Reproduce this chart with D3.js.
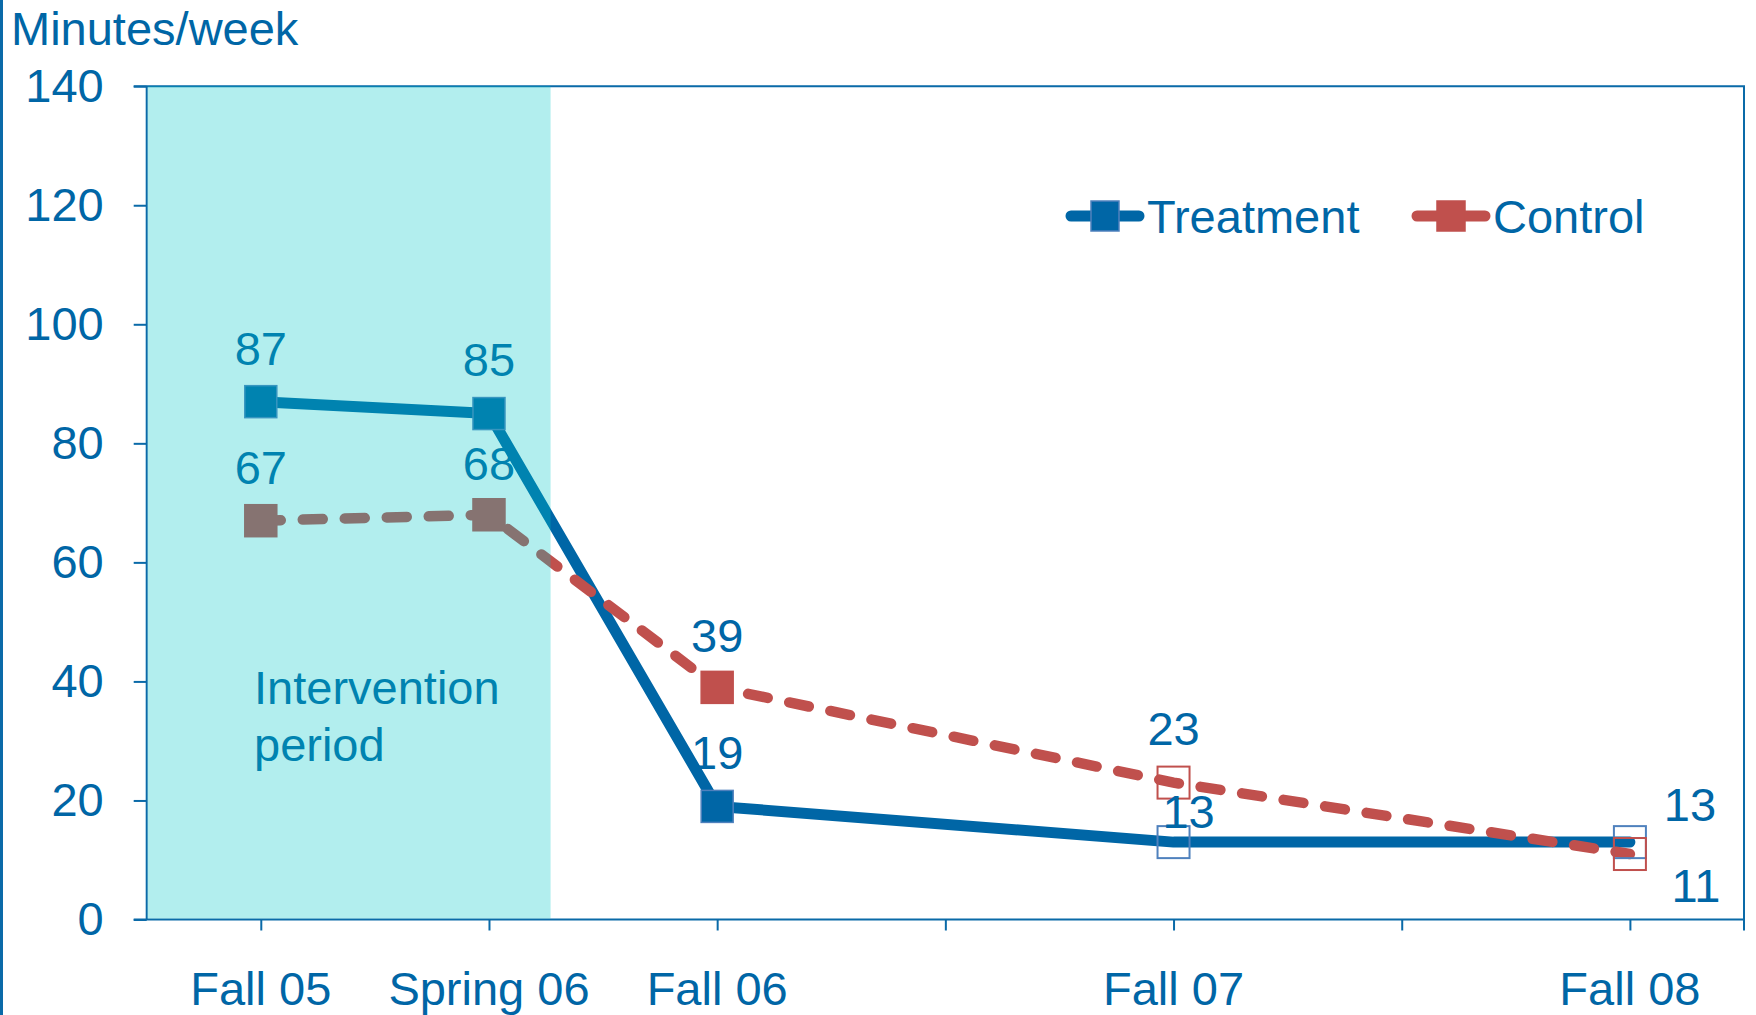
<!DOCTYPE html>
<html>
<head>
<meta charset="utf-8">
<script src="https://cdn.jsdelivr.net/npm/d3@7"></script>
<style>
  html, body { margin: 0; padding: 0; background: #fff; }
  svg { display: block; }
  text { font-family: "Liberation Sans", Arial, sans-serif; }
</style>
</head>
<body>
<script>
// ---- data ----
const periods = ["Fall 05", "Spring 06", "Fall 06", "Fall 07", "Fall 08"];
const timeIndex = [0, 1, 2, 4, 6];          // half-year steps since Fall 05
const treatment = [87, 85, 19, 13, 13];
const control = [67, 68, 39, 23, 11];
const seriesNames = ["Treatment", "Control"];
const yTicks = [0, 20, 40, 60, 80, 100, 120, 140];
const xTicks = [0, 1, 2, 3, 4, 5, 6];
const interventionEnd = 1.27;               // end of the shaded intervention span
const interventionText = ["Intervention", "period"];
const yTitle = "Minutes/week";

// ---- layout ----
const W = 1756, H = 1015;
const BLUE = "#0066a6", RED = "#c0504d", AXIS = "#0a6aa8";
const FONT = 47;

const svg = d3.select("body").append("svg").attr("width", W).attr("height", H);

const x = d3.scaleLinear().domain([-0.5, 6.5]).range([146.7, 1744]);
const y = d3.scaleLinear().domain([0, 140]).range([919.5, 86.2]);

// page edge rule on the far left
svg.append("line").attr("x1", 1.5).attr("x2", 1.5).attr("y1", 0).attr("y2", H)
  .attr("stroke", AXIS).attr("stroke-width", 3);

// y axis with outward ticks
const yAxis = svg.append("g").attr("transform", `translate(${x(-0.5)},0)`)
  .call(d3.axisLeft(y).tickValues(yTicks).tickSize(13).tickPadding(30));
yAxis.selectAll("path, line").attr("stroke", AXIS).attr("stroke-width", 2);
yAxis.select(".domain").attr("d", `M0,${y(140)}V${y(0)}`);
yAxis.selectAll("text").attr("fill", BLUE).attr("font-size", FONT)
  .style("font-family", '"Liberation Sans", Arial, sans-serif');

// x axis ticks
const xAxis = svg.append("g").attr("transform", `translate(0,${y(0)})`)
  .call(d3.axisBottom(x).tickValues(xTicks).tickSize(11).tickFormat(""));
xAxis.selectAll("path, line").attr("stroke", AXIS).attr("stroke-width", 2);
xAxis.select(".domain").attr("d", `M${x(-0.5) - 13},0H${x(6.5)}`);

// plot frame: top and right edges
svg.append("path")
  .attr("d", `M${x(-0.5) - 13},${y(140)}H${x(6.5)}V${y(0) + 11}`)
  .attr("fill", "none").attr("stroke", AXIS).attr("stroke-width", 2);

// category labels
svg.append("g").selectAll("text").data(periods).join("text")
  .attr("x", (d, i) => x(timeIndex[i]))
  .attr("y", 1005)
  .attr("text-anchor", "middle")
  .attr("font-size", FONT).attr("fill", BLUE)
  .text(d => d);

// axis title
svg.append("text").attr("x", 11).attr("y", 45)
  .attr("font-size", FONT).attr("fill", BLUE).text(yTitle);

// ---- series ----
const pts = (vals) => vals.map((v, i) => ({ t: timeIndex[i], v, i }));
const line = d3.line().x(d => x(d.t)).y(d => y(d.v));

const plot = svg.append("g");

plot.append("path").datum(pts(treatment))
  .attr("d", line).attr("fill", "none")
  .attr("stroke", BLUE).attr("stroke-width", 11)
  .attr("stroke-linejoin", "round").attr("stroke-linecap", "round");

plot.append("path").datum(pts(control))
  .attr("d", line).attr("fill", "none")
  .attr("stroke", RED).attr("stroke-width", 10.5)
  .attr("stroke-dasharray", "20 22").attr("stroke-linecap", "round");

// markers: filled through Fall 06, hollow afterwards
const MS = 32;
function markers(vals, fill, edge, cls) {
  plot.append("g").selectAll("rect").data(pts(vals)).join("rect")
    .attr("class", cls)
    .attr("x", d => x(d.t) - MS / 2)
    .attr("y", d => y(d.v) - MS / 2)
    .attr("width", MS).attr("height", MS)
    .attr("fill", d => d.t <= 2 ? fill : "none")
    .attr("stroke", edge)
    .attr("stroke-width", d => d.t <= 2 ? 1.5 : 2);
}
markers(treatment, BLUE, "#4f81bd", "m-treat");
markers(control, RED, RED, "m-ctrl");

// value labels (offsets keep crowded labels apart)
const treatOffsets = [[0, -54], [0, -54], [0, -54], [15, -31], [60, -38]];
const ctrlOffsets = [[0, -54], [0, -52], [0, -52], [0, -55], [66, 31]];
function valueLabels(vals, offs) {
  plot.append("g").selectAll("text").data(pts(vals)).join("text")
    .attr("x", d => x(d.t) + offs[d.i][0])
    .attr("y", d => y(d.v) + offs[d.i][1])
    .attr("dy", "0.36em")
    .attr("text-anchor", "middle")
    .attr("font-size", FONT).attr("fill", BLUE)
    .text(d => d.v);
}
valueLabels(treatment, treatOffsets);
valueLabels(control, ctrlOffsets);

// intervention note
svg.append("g").selectAll("text").data(interventionText).join("text")
  .attr("x", 254).attr("y", (d, i) => 704 + i * 57)
  .attr("font-size", FONT).attr("fill", BLUE).text(d => d);

// translucent intervention band laid over everything beneath it
svg.append("rect")
  .attr("x", x(-0.5) + 1).attr("y", y(140))
  .attr("width", x(interventionEnd) - x(-0.5) - 1)
  .attr("height", y(0) - y(140) - 1)
  .attr("fill", "rgb(0,200,200)").attr("fill-opacity", 0.3);

// ---- legend ----
const legend = svg.append("g");
const legendItems = [
  { name: seriesNames[0], color: BLUE, edge: "#4f81bd", x0: 1067 },
  { name: seriesNames[1], color: RED, edge: RED, x0: 1413 }
];
const LY = 216;
legendItems.forEach(it => {
  legend.append("line").attr("x1", it.x0 + 4).attr("x2", it.x0 + 72)
    .attr("y1", LY).attr("y2", LY)
    .attr("stroke", it.color).attr("stroke-width", 11).attr("stroke-linecap", "round");
  legend.append("rect").attr("x", it.x0 + 38 - 14).attr("y", LY - 15)
    .attr("width", 28).attr("height", 30)
    .attr("fill", it.color).attr("stroke", it.edge).attr("stroke-width", 1.5);
  legend.append("text").attr("x", it.x0 + 80).attr("y", LY + 17)
    .attr("font-size", FONT).attr("fill", BLUE).text(it.name);
});
</script>
</body>
</html>
